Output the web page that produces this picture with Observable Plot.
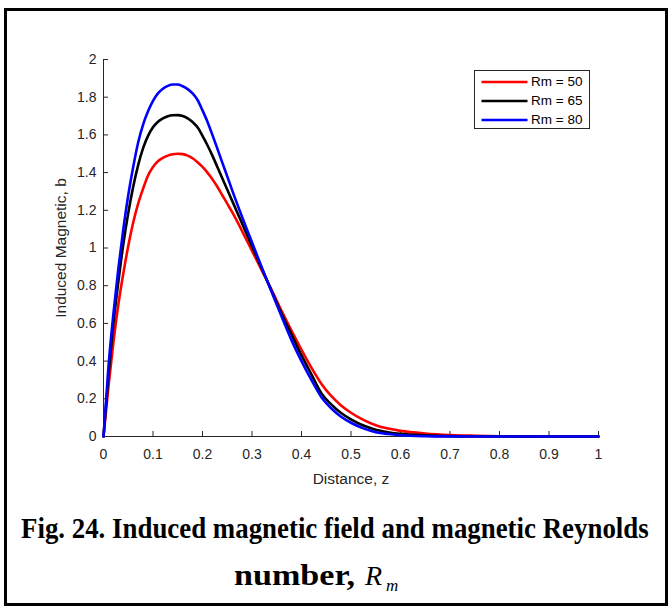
<!DOCTYPE html>
<html><head><meta charset="utf-8">
<script src="https://cdn.jsdelivr.net/npm/d3@7"></script>
<script src="https://cdn.jsdelivr.net/npm/@observablehq/plot@0.6"></script>
<style>
body{margin:0;background:#fff;}
#wrap{position:relative;width:669px;height:607px;overflow:hidden;background:#fff;}
#frame{position:absolute;left:4px;top:8px;width:658px;height:592px;border:3px solid #000;}
#chart{position:absolute;left:0;top:0;}
#legend{position:absolute;left:474px;top:70px;width:114px;height:57px;border:1px solid #262626;background:#fff;font-family:Arial,"Liberation Sans",sans-serif;font-size:13.5px;color:#000;}
.row{position:absolute;left:0;height:16px;width:112px;}
.row svg{position:absolute;left:6px;top:0;}
.row span{position:absolute;left:56px;top:0;line-height:16px;white-space:nowrap;}
#caption{position:absolute;left:0;top:0;}
</style>
</head><body>
<div id="wrap">
<div id="frame"></div>
<div id="chart"></div>
<div id="legend"></div>
<svg id="caption" width="669" height="607"></svg>
</div>
<script>
// ---- data ----
const seriesNames = ["Rm = 50", "Rm = 65", "Rm = 80"];
const seriesColors = ["#ff0000", "#000000", "#0000ff"];

const zGrid = [0, 0.01, 0.02, 0.03, 0.04, 0.05, 0.06, 0.07, 0.08, 0.09, 0.10, 0.11, 0.12, 0.13, 0.14, 0.15, 0.16, 0.17, 0.18, 0.19, 0.20, 0.21, 0.22, 0.23, 0.24, 0.25, 0.26, 0.28, 0.30, 0.32, 0.34, 0.36, 0.38, 0.40, 0.42, 0.44, 0.46, 0.48, 0.50, 0.525, 0.55, 0.575, 0.60, 0.65, 0.70, 0.75, 0.80, 0.85, 0.90, 0.95, 1.0];

const b50 = [0, 0.265, 0.50, 0.70, 0.865, 1.01, 1.135, 1.235, 1.315, 1.385, 1.43, 1.46, 1.478, 1.49, 1.497, 1.50, 1.498, 1.49, 1.476, 1.455, 1.43, 1.40, 1.365, 1.325, 1.28, 1.235, 1.19, 1.09, 0.985, 0.88, 0.775, 0.665, 0.56, 0.46, 0.365, 0.28, 0.215, 0.165, 0.126, 0.088, 0.06, 0.042, 0.03, 0.016, 0.008, 0.004, 0.0015, 0.0005, 0, 0, 0];

const b65 = [0, 0.32, 0.60, 0.82, 1.02, 1.185, 1.325, 1.44, 1.53, 1.595, 1.64, 1.67, 1.688, 1.699, 1.704, 1.705, 1.70, 1.688, 1.668, 1.64, 1.595, 1.545, 1.49, 1.43, 1.37, 1.31, 1.25, 1.13, 1.01, 0.89, 0.77, 0.65, 0.54, 0.43, 0.33, 0.23, 0.17, 0.125, 0.091, 0.058, 0.036, 0.023, 0.014, 0.006, 0.002, 0.0005, 0, 0, 0, 0, 0];

const b80 = [0, 0.37, 0.65, 0.89, 1.10, 1.28, 1.43, 1.56, 1.655, 1.725, 1.78, 1.82, 1.845, 1.86, 1.867, 1.867, 1.858, 1.843, 1.82, 1.785, 1.73, 1.67, 1.60, 1.527, 1.453, 1.38, 1.306, 1.165, 1.03, 0.895, 0.765, 0.635, 0.51, 0.40, 0.30, 0.21, 0.15, 0.105, 0.073, 0.043, 0.023, 0.013, 0.007, 0.002, 0.0005, 0, 0, 0, 0, 0, 0];

const xTicks = [0, 0.1, 0.2, 0.3, 0.4, 0.5, 0.6, 0.7, 0.8, 0.9, 1];
const yTicks = [0, 0.2, 0.4, 0.6, 0.8, 1, 1.2, 1.4, 1.6, 1.8, 2];
const xLabel = "Distance, z";
const yLabel = "Induced Magnetic, b";
const captionLine1 = "Fig. 24. Induced magnetic field and magnetic Reynolds";
const captionLine2 = "number,";
const captionSymbol = "R";
const captionSub = "m";

// ---- build table ----
const bs = [b50, b65, b80];
const rows = [];
seriesNames.forEach((name, i) => zGrid.forEach((z, j) => rows.push({series: name, z, b: bs[i][j]})));

const axisColor = "#262626";
const chart = Plot.plot({
  width: 669, height: 500,
  marginLeft: 103, marginRight: 71, marginTop: 59, marginBottom: 64,
  style: {fontFamily: "Arial, 'Liberation Sans', sans-serif", fontSize: "14px", color: axisColor, background: "transparent"},
  x: {domain: [0, 1]},
  y: {domain: [0, 2]},
  color: {domain: seriesNames, range: seriesColors},
  marks: [
    Plot.ruleY([0], {stroke: axisColor, strokeWidth: 1}),
    Plot.ruleX([0], {stroke: axisColor, strokeWidth: 1}),
    // inward tick marks (MATLAB style)
    Plot.ruleX(xTicks, {x: d => d, y1: 0, y2: 0, insetTop: 0, insetBottom: 5, stroke: axisColor, strokeWidth: 1}),
    Plot.ruleY(yTicks, {y: d => d, x1: 0, x2: 0, insetLeft: 0, insetRight: -5, stroke: axisColor, strokeWidth: 1}),
    Plot.axisX(xTicks, {tickSize: 0, tickPadding: 13, fontSize: 14, tickFormat: d3.format(""), label: xLabel, labelAnchor: "center", labelArrow: false, labelOffset: 47, fill: axisColor}),
    Plot.axisY(yTicks, {tickSize: 0, tickPadding: 7, fontSize: 14, tickFormat: d3.format(""), label: yLabel, labelAnchor: "center", labelArrow: false, labelOffset: 49, fill: axisColor}),
    Plot.line(rows, {x: "z", y: "b", z: "series", stroke: "series", strokeWidth: 2.6, curve: "monotone-x"})
  ]
});
document.getElementById("chart").appendChild(chart);
// axis titles slightly larger than tick labels
d3.select(chart).selectAll("g[aria-label='x-axis label'] text, g[aria-label='y-axis label'] text").style("font-size", "15.5px");

// ---- legend ----
const legend = document.getElementById("legend");
const rowTops = [3, 22, 41];
seriesNames.forEach((name, i) => {
  const r = document.createElement("div");
  r.className = "row";
  r.style.top = rowTops[i] + "px";
  r.innerHTML = `<svg width="48" height="16"><line x1="0.5" x2="46.5" y1="8" y2="8" stroke="${seriesColors[i]}" stroke-width="2.6"/></svg><span>${name}</span>`;
  legend.appendChild(r);
});

// ---- caption (condensed Times bold, as in the reference) ----
const cap = d3.select("#caption");
function fitted(x, y, width, size, text, weight, style) {
  const g = cap.append("g");
  const t = g.append("text")
    .style("font-family", "'Liberation Serif', 'Times New Roman', serif")
    .style("font-weight", weight).style("font-style", style)
    .style("font-size", size + "px").text(text);
  const natural = t.node().getComputedTextLength();
  const sx = width / natural;
  g.attr("transform", `translate(${x},${y}) scale(${sx},1)`);
  return g;
}
fitted(21, 537.5, 628, 30, captionLine1, "bold", "normal");
fitted(234, 584.5, 121, 30, captionLine2, "bold", "normal");
cap.append("text").attr("x", 365).attr("y", 584.5)
  .style("font-family", "'Liberation Serif', 'Times New Roman', serif").style("font-style", "italic").style("font-size", "28px")
  .text(captionSymbol);
cap.append("text").attr("x", 386).attr("y", 591)
  .style("font-family", "'Liberation Serif', 'Times New Roman', serif").style("font-style", "italic").style("font-size", "17px")
  .text(captionSub);
</script>
</body></html>
